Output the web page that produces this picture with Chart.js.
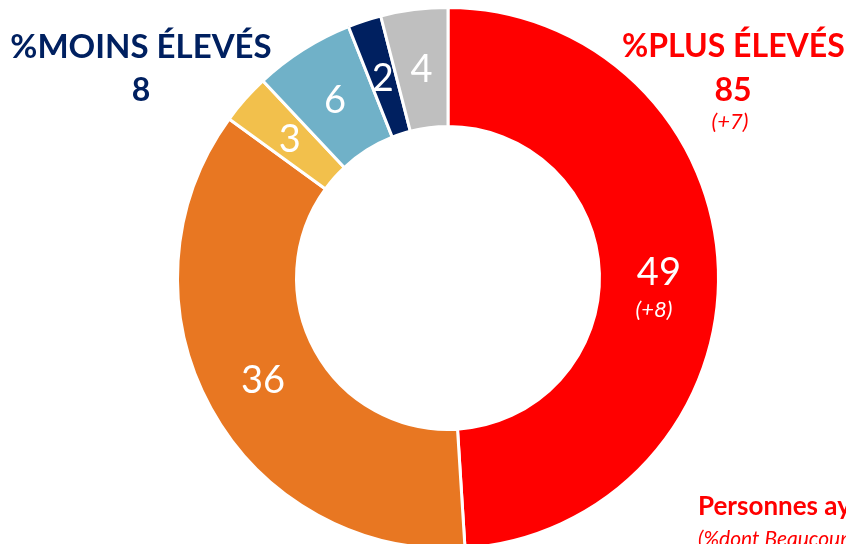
<!DOCTYPE html>
<html><head><meta charset="utf-8">
<script src="https://cdn.jsdelivr.net/npm/chart.js@4/dist/chart.umd.min.js"></script>
<style>
html,body{margin:0;padding:0;width:846px;height:544px;overflow:hidden;background:#fff;font-family:Lato,"Open Sans",sans-serif;}
#wrap{position:absolute;left:0;top:0;width:846px;height:560px;}
.t{position:absolute;white-space:nowrap;}
</style></head><body>
<div id="wrap"><canvas id="c" width="846" height="560"></canvas></div>
<div class="t" style="left:0;width:282px;top:26px;text-align:center;color:#002060;font-weight:700;font-size:33px;line-height:38px;">%MOINS ÉLEVÉS</div>
<div class="t" style="left:0;width:282px;top:70px;text-align:center;color:#002060;font-weight:700;font-size:32px;line-height:38px;">8</div>
<div class="t" style="left:622px;width:226px;top:26px;text-align:left;color:#ff0000;font-weight:700;font-size:32px;line-height:38px;">%PLUS ÉLEVÉS</div>
<div class="t" style="left:683px;width:100px;top:70px;text-align:center;color:#ff0000;font-weight:700;font-size:32px;line-height:38px;">85</div>
<div class="t" style="left:680px;width:100px;top:108px;text-align:center;color:#ff0000;font-style:italic;font-size:22px;line-height:26px;">(+7)</div>
<div class="t" style="left:698px;top:490px;color:#ff0000;font-weight:700;font-size:26px;line-height:30px;">Personnes ayant</div>
<div class="t" style="left:698px;top:526px;color:#ff0000;font-style:italic;font-size:21px;line-height:24px;">(%dont Beaucoup)</div>
<script>
const categories = ["Beaucoup plus élevés","Un peu plus élevés","Un peu moins élevés","Beaucoup moins élevés","Nettement moins","Ne se prononcent pas"];
const values = [49, 36, 3, 6, 2, 4];
const changes = ["(+8)", "", "", "", "", ""];
const colors = ["#ff0000","#e87722","#f2c04c","#70b1c8","#002060","#bfbfbf"];

const labelPlugin = {
  id:'labels',
  afterDatasetsDraw(chart){
    const ctx = chart.ctx;
    const meta = chart.getDatasetMeta(0);
    meta.data.forEach((arc,i)=>{
      const p = arc.getCenterPoint();
      ctx.save();
      ctx.fillStyle = '#fff';
      ctx.textAlign='center';
      ctx.textBaseline='middle';
      ctx.font = '38px Lato, "Open Sans", sans-serif';
      ctx.fillText(String(values[i]), p.x, p.y+1);
      if(changes[i]){
        ctx.font = 'italic 22px Lato, "Open Sans", sans-serif';
        ctx.fillText(changes[i], p.x-5, p.y+39);
      }
      ctx.restore();
    });
  }
};

new Chart(document.getElementById('c'),{
  type:'doughnut',
  data:{labels:categories,datasets:[{data:values,backgroundColor:colors,borderColor:'#ffffff',borderWidth:3}]},
  options:{
    responsive:false,animation:false,
    cutout:'56%',
    layout:{padding:{left:170,right:120,top:6,bottom:10}},
    plugins:{legend:{display:false},tooltip:{enabled:false}}
  },
  plugins:[labelPlugin]
});
</script>
</body></html>
